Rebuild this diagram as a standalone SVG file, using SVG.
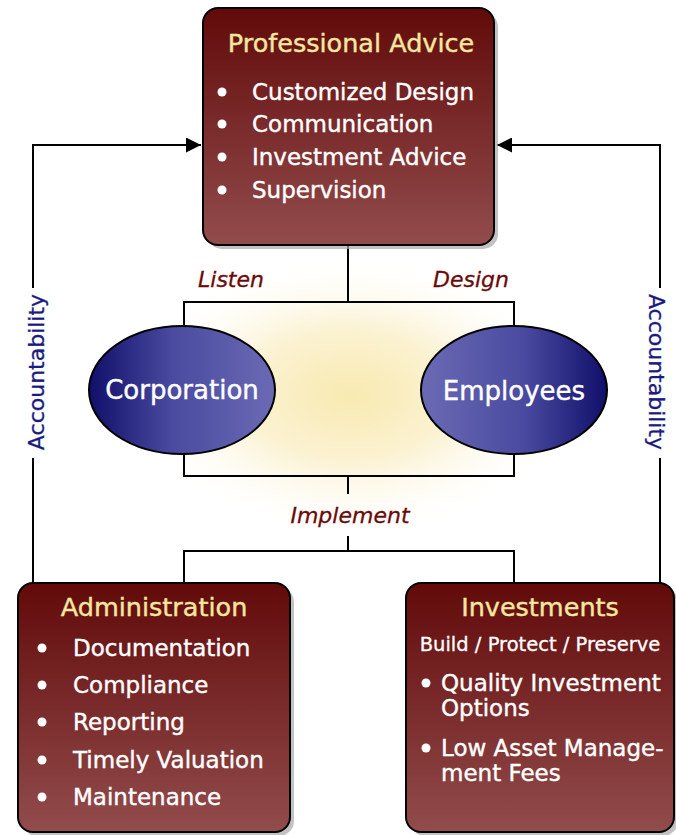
<svg xmlns="http://www.w3.org/2000/svg" width="676" height="835" viewBox="0 0 676 835">
<defs>
<linearGradient id="boxg" x1="0" y1="0" x2="0" y2="1">
<stop offset="0" stop-color="#620a0a"/>
<stop offset="1" stop-color="#924c4c"/>
</linearGradient>
<linearGradient id="ellL" x1="0" y1="0" x2="1" y2="0">
<stop offset="0" stop-color="#10106a"/>
<stop offset="0.45" stop-color="#4a4aa0"/>
<stop offset="1" stop-color="#6a6ab4"/>
</linearGradient>
<linearGradient id="ellR" x1="0" y1="0" x2="1" y2="0">
<stop offset="0" stop-color="#6a6ab4"/>
<stop offset="0.55" stop-color="#4a4aa0"/>
<stop offset="1" stop-color="#10106a"/>
</linearGradient>
<radialGradient id="glow" cx="0.5" cy="0.5" r="0.5">
<stop offset="0" stop-color="#f8eab0"/>
<stop offset="0.45" stop-color="#fbf2d2"/>
<stop offset="1" stop-color="#ffffff" stop-opacity="0"/>
</radialGradient>
<marker id="arr" viewBox="0 0 10 10" refX="10" refY="5" markerWidth="23" markerHeight="15" markerUnits="userSpaceOnUse" orient="auto">
<path d="M0,0 L10,5 L0,10 z" fill="#000"/>
</marker>
</defs>
<style>
.box{fill:url(#boxg);stroke:#000;stroke-width:2}
.shadow{fill:#a8a8a8;opacity:0.7}
.ttl{font-family:"DejaVu Sans",sans-serif;font-size:25.5px;fill:#f5e6a0;stroke:#f5e6a0;stroke-width:0.4;text-anchor:middle}
.item{font-family:"DejaVu Sans",sans-serif;font-size:23px;fill:#ffffff;stroke:#ffffff;stroke-width:0.4}
.sub{font-family:"DejaVu Sans",sans-serif;font-size:19.5px;fill:#ffffff;stroke:#ffffff;stroke-width:0.3;text-anchor:middle}
.ell{stroke:#000;stroke-width:2}
.etxt{font-family:"DejaVu Sans",sans-serif;font-size:26px;fill:#ffffff;stroke:#ffffff;stroke-width:0.4;text-anchor:middle}
.lbl{font-family:"DejaVu Sans",sans-serif;font-size:22px;font-style:italic;fill:#6b0a0a;stroke:#6b0a0a;stroke-width:0.3;text-anchor:middle}
.acc{font-family:"DejaVu Sans",sans-serif;font-size:22px;fill:#1a1a80;stroke:#1a1a80;stroke-width:0.3;text-anchor:middle}
.ln{fill:none;stroke:#000;stroke-width:2}
</style>
<rect x="120" y="250" width="460" height="290" fill="url(#glow)"/>
<g id="connectors">
<path class="ln" d="M33,583 V145 H201" marker-end="url(#arr)"/>
<path class="ln" d="M660,583 V145 H497" marker-end="url(#arr)"/>
<path class="ln" d="M348,245 V302 M184,327 V302 H514 V327"/>
<path class="ln" d="M184,454 V476 H514 V454 M348,476 V494 M348,536 V551 M184,583 V551 H514 V583"/>
<rect x="22" y="288" width="22" height="170" fill="#fff"/>
<rect x="649" y="288" width="22" height="170" fill="#fff"/>
<text class="acc" transform="translate(44,372) rotate(-90)">Accountability</text>
<text class="acc" transform="translate(649,372) rotate(90)">Accountability</text>
<text class="lbl" x="231" y="287">Listen</text>
<text class="lbl" x="471" y="287">Design</text>
<text class="lbl" x="350" y="523">Implement</text>
</g>
<g id="professional-advice">
<rect class="shadow" x="207" y="12" width="291" height="237" rx="15"/>
<rect class="box" x="203" y="8" width="291" height="237" rx="15"/>
<text class="ttl" x="351" y="52">Professional Advice</text>
<g fill="#fff"><circle cx="222" cy="92" r="4.5"/><circle cx="222" cy="124" r="4.5"/><circle cx="222" cy="157" r="4.5"/><circle cx="222" cy="190" r="4.5"/></g>
<text class="item" x="252" y="100">Customized Design</text>
<text class="item" x="252" y="132">Communication</text>
<text class="item" x="252" y="165">Investment Advice</text>
<text class="item" x="252" y="198">Supervision</text>
</g>
<g id="corporation">
<ellipse class="ell" cx="182" cy="390" rx="93" ry="64" fill="url(#ellL)"/>
<text class="etxt" x="182" y="399">Corporation</text>
</g>
<g id="employees">
<ellipse class="ell" cx="514" cy="390" rx="93" ry="64" fill="url(#ellR)"/>
<text class="etxt" x="514" y="400">Employees</text>
</g>
<g id="administration">
<rect class="shadow" x="22" y="587" width="272" height="249" rx="15"/>
<rect class="box" x="18" y="583" width="272" height="249" rx="15"/>
<text class="ttl" x="154" y="616">Administration</text>
<g fill="#fff"><circle cx="42" cy="648" r="4.5"/><circle cx="42" cy="685" r="4.5"/><circle cx="42" cy="722" r="4.5"/><circle cx="42" cy="760" r="4.5"/><circle cx="42" cy="797" r="4.5"/></g>
<text class="item" x="73" y="656">Documentation</text>
<text class="item" x="73" y="693">Compliance</text>
<text class="item" x="73" y="730">Reporting</text>
<text class="item" x="73" y="768">Timely Valuation</text>
<text class="item" x="73" y="805">Maintenance</text>
</g>
<g id="investments">
<rect class="shadow" x="410" y="587" width="268" height="249" rx="15"/>
<rect class="box" x="406" y="583" width="268" height="249" rx="15"/>
<text class="ttl" x="540" y="616">Investments</text>
<text class="sub" x="540" y="651">Build / Protect / Preserve</text>
<g fill="#fff"><circle cx="426" cy="683" r="4.5"/><circle cx="426" cy="748" r="4.5"/></g>
<text class="item" x="441" y="691">Quality Investment</text>
<text class="item" x="441" y="716">Options</text>
<text class="item" x="441" y="756">Low Asset Manage-</text>
<text class="item" x="441" y="781">ment Fees</text>
</g>
</svg>
